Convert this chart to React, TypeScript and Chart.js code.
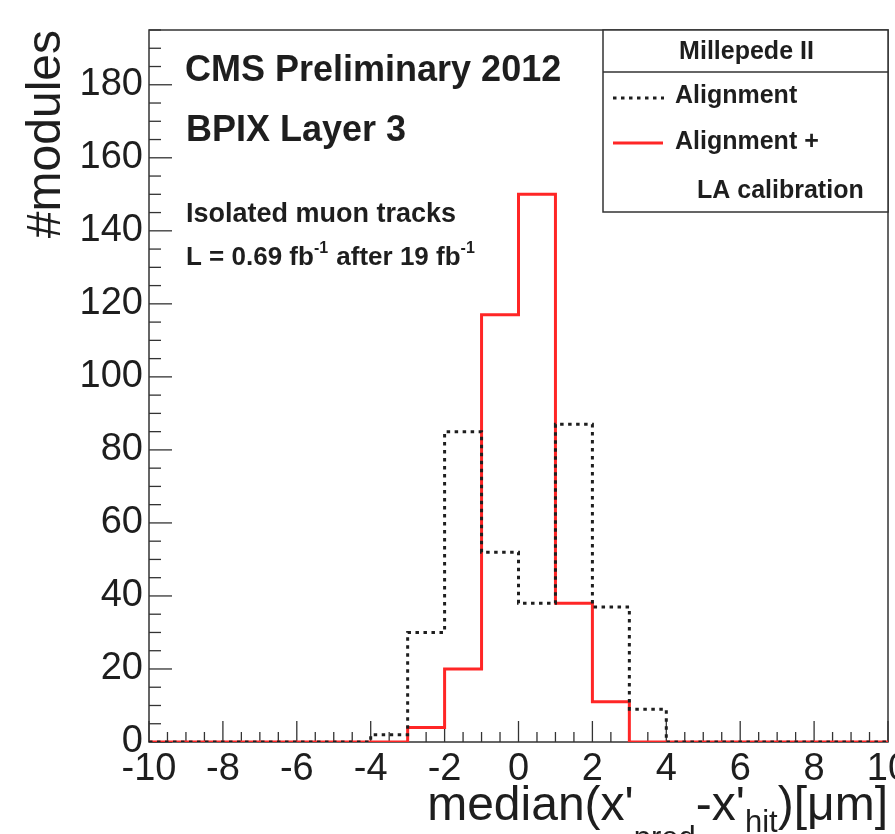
import React, { useEffect, useRef } from 'react';
import { Chart, registerables } from 'chart.js';

Chart.register(...registerables);

// ---- data ----
const binEdges = [-10, -9, -8, -7, -6, -5, -4, -3, -2, -1, 0, 1, 2, 3, 4, 5, 6, 7, 8, 9, 10];
// "Alignment" (black dotted)
const alignment = [0, 0, 0, 0, 0, 0, 2, 30, 85, 52, 38, 87, 37, 9, 0, 0, 0, 0, 0, 0];
// "Alignment + LA calibration" (red solid)
const alignmentLA = [0, 0, 0, 0, 0, 0, 0, 4, 20, 117, 150, 38, 11, 0, 0, 0, 0, 0, 0, 0];

const xTickValues = [-10, -8, -6, -4, -2, 0, 2, 4, 6, 8, 10];
const yTickValues = [0, 20, 40, 60, 80, 100, 120, 140, 160, 180];
const xMin = -10;
const xMax = 10;
const yMin = 0;
const yMax = 195;

const legendTitle = 'Millepede II';
const legendLabels = ['Alignment', 'Alignment +', 'LA calibration'];

const FONT = '"Liberation Sans", Arial, Helvetica, sans-serif';
const TEXT = '#1e1e1e';
const FRAME = '#333333';
const RED = 'rgb(255,38,38)';

function toSteps(values: number[]) {
  const pts = values.map((v, i) => ({ x: binEdges[i], y: v }));
  pts.push({ x: binEdges[binEdges.length - 1], y: values[values.length - 1] });
  return pts;
}

const decorPlugin = {
  id: 'rootDecor',
  beforeDatasetsDraw(chart: any) {
    const { ctx, chartArea: a, scales } = chart;
    const xs = scales.x;
    const ys = scales.y;
    ctx.save();
    ctx.strokeStyle = FRAME;
    ctx.lineWidth = 1.5;
    ctx.strokeRect(a.left, a.top, a.right - a.left, a.bottom - a.top);
    ctx.lineWidth = 1.3;
    // x ticks (inside)
    for (let i = 0; i <= (xMax - xMin) * 2; i++) {
      const v = xMin + i * 0.5;
      const px = xs.getPixelForValue(v);
      const major = i % 4 === 0;
      const len = major ? 21 : 10;
      ctx.beginPath();
      ctx.moveTo(px, a.bottom);
      ctx.lineTo(px, a.bottom - len);
      ctx.stroke();
    }
    // y ticks (inside)
    for (let v = yMin; v <= yMax; v += 5) {
      const py = ys.getPixelForValue(v);
      const major = v % 20 === 0;
      const len = major ? 23 : 12;
      ctx.beginPath();
      ctx.moveTo(a.left, py);
      ctx.lineTo(a.left + len, py);
      ctx.stroke();
    }
    ctx.restore();
  },
  afterDraw(chart: any) {
    const { ctx, chartArea: a } = chart;
    ctx.save();
    ctx.fillStyle = TEXT;
    ctx.textBaseline = 'alphabetic';

    // y-axis title
    ctx.save();
    ctx.translate(60, a.top);
    ctx.rotate(-Math.PI / 2);
    ctx.textAlign = 'right';
    ctx.font = `48px ${FONT}`;
    ctx.fillText('#modules', 0, 0);
    ctx.restore();

    // x-axis title with subscripts, right-aligned at axis end
    ctx.textAlign = 'left';
    const mainF = `48px ${FONT}`;
    const subF = `31px ${FONT}`;
    const parts: [string, string, number][] = [
      ["median(x'", mainF, 820],
      ['pred', subF, 848],
      ["-x'", mainF, 820],
      ['hit', subF, 832],
      [')[\u03bcm]', mainF, 820],
    ];
    let total = 0;
    for (const [t, f] of parts) {
      ctx.font = f;
      total += ctx.measureText(t).width;
    }
    let cx = a.right - total;
    for (const [t, f, by] of parts) {
      ctx.font = f;
      ctx.fillText(t, cx, by);
      cx += ctx.measureText(t).width;
    }

    // inner labels
    const lx = a.left + 36;
    ctx.font = `bold 36px ${FONT}`;
    ctx.fillText('CMS Preliminary 2012', lx, 81);
    ctx.fillText('BPIX Layer 3', lx + 1, 141);
    ctx.font = `bold 27px ${FONT}`;
    ctx.fillText('Isolated muon tracks', lx + 1, 222);
    // luminosity line with superscripts
    const lumi: [string, boolean][] = [
      ['L = 0.69 fb', false],
      ['-1', true],
      [' after 19 fb', false],
      ['-1', true],
    ];
    let ux = lx + 1;
    for (const [t, sup] of lumi) {
      ctx.font = sup ? `bold 16px ${FONT}` : `bold 26px ${FONT}`;
      ctx.fillText(t, ux, sup ? 253 : 265);
      ux += ctx.measureText(t).width + (sup ? 1 : 0);
    }

    // legend box
    const bx = 603;
    const by = a.top;
    const bw = a.right - bx;
    const bh = 212 - a.top;
    ctx.fillStyle = '#ffffff';
    ctx.fillRect(bx, by, bw, bh);
    ctx.strokeStyle = FRAME;
    ctx.lineWidth = 1.5;
    ctx.strokeRect(bx, by, bw, bh);
    ctx.beginPath();
    ctx.moveTo(bx, 72);
    ctx.lineTo(bx + bw, 72);
    ctx.stroke();

    ctx.fillStyle = TEXT;
    ctx.font = `bold 25px ${FONT}`;
    ctx.textAlign = 'center';
    ctx.fillText(legendTitle, bx + bw / 2 + 1, 59);
    ctx.textAlign = 'left';
    ctx.fillText(legendLabels[0], 675, 103);
    ctx.fillText(legendLabels[1], 675, 149);
    ctx.fillText(legendLabels[2], 697, 198);

    // samples
    ctx.lineWidth = 3;
    ctx.strokeStyle = TEXT;
    ctx.setLineDash([3.5, 4.5]);
    ctx.beginPath();
    ctx.moveTo(613, 98);
    ctx.lineTo(664, 98);
    ctx.stroke();
    ctx.setLineDash([]);
    ctx.strokeStyle = RED;
    ctx.beginPath();
    ctx.moveTo(613, 143);
    ctx.lineTo(663, 143);
    ctx.stroke();

    ctx.restore();
  },
};

export default function App() {
  const ref = useRef<HTMLCanvasElement | null>(null);

  useEffect(() => {
    document.body.style.margin = '0';
    const canvas = ref.current;
    if (!canvas) return;
    const chart = new Chart(canvas, {
      type: 'line',
      data: {
        datasets: [
          {
            label: legendLabels[0],
            data: toSteps(alignment),
            stepped: 'before',
            borderColor: TEXT,
            borderWidth: 3,
            borderDash: [3.5, 4.5],
            pointRadius: 0,
            fill: false,
          },
          {
            label: legendLabels[1] + ' ' + legendLabels[2],
            data: toSteps(alignmentLA),
            stepped: 'before',
            borderColor: RED,
            borderWidth: 3,
            pointRadius: 0,
            fill: false,
          },
        ],
      },
      options: {
        responsive: false,
        animation: false,
        devicePixelRatio: 1,
        layout: { padding: { top: 30, right: 7, left: 0, bottom: 0 } },
        plugins: {
          legend: { display: false },
          tooltip: { enabled: false },
          title: { display: false },
        },
        scales: {
          x: {
            type: 'linear',
            min: xMin,
            max: xMax,
            grid: { display: false, drawTicks: false },
            border: { display: false },
            afterBuildTicks: (s: any) => {
              s.ticks = xTickValues.map((v) => ({ value: v }));
            },
            afterFit: (s: any) => {
              s.height = 92;
              s.paddingLeft = 0;
              s.paddingRight = 0;
            },
            ticks: {
              autoSkip: false,
              maxRotation: 0,
              minRotation: 0,
              padding: 9,
              color: TEXT,
              font: { family: FONT, size: 38, lineHeight: 1 },
              callback: (v: any) => String(v),
            },
          },
          y: {
            type: 'linear',
            min: yMin,
            max: yMax,
            grid: { display: false, drawTicks: false },
            border: { display: false },
            afterBuildTicks: (s: any) => {
              s.ticks = yTickValues.map((v) => ({ value: v }));
            },
            afterFit: (s: any) => {
              s.width = 149;
              s.paddingTop = 0;
              s.paddingBottom = 0;
            },
            ticks: {
              autoSkip: false,
              padding: 6,
              color: TEXT,
              font: { family: FONT, size: 38, lineHeight: 1 },
              callback: (v: any) => String(v),
            },
          },
        },
      },
      plugins: [decorPlugin],
    } as any);
    return () => chart.destroy();
  }, []);

  return (
    <div style={{ width: 895, height: 834, position: 'relative', background: '#fff' }}>
      <canvas ref={ref} width={895} height={834} style={{ display: 'block' }} />
    </div>
  );
}
